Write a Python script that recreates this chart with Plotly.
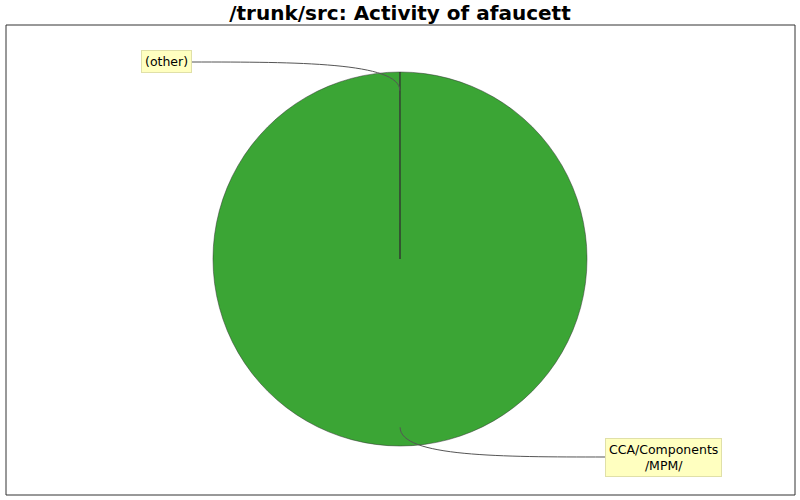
import math

import plotly.graph_objects as go

# slice data
labels = ["CCA/Components<br>/MPM/", "(other)"]
values = [5000, 1]
slice_colors = ["#3ba535", "#2f8a2b"]

# layout in pixels
W, H = 800, 500
ML, MR, MT, MB = 6, 5, 25, 5
CX, CY, R = 400, 259, 187
label_spots = [(605, 457, "left"), (192, 62, "right")]


def px_x(x):
    return (x - ML) / (W - ML - MR)


def px_y(y):
    return (H - MB - y) / (H - MT - MB)


fig = go.Figure(go.Pie(
    labels=labels,
    values=values,
    sort=False,
    direction="clockwise",
    rotation=0,
    textinfo="none",
    hoverinfo="label+value+percent",
    marker=dict(colors=slice_colors, line=dict(color="#333333", width=0.5)),
    domain=dict(x=[px_x(CX - R), px_x(CX + R)], y=[px_y(CY + R), px_y(CY - R)]),
    showlegend=False,
))

# leader lines and label boxes, placed from each slice's middle angle
total = sum(values)
cum = 0
shapes = [dict(type="rect", xref="paper", yref="paper", x0=0, x1=1, y0=0, y1=1,
               line=dict(color="#333333", width=1), layer="above")]
annotations = []
for lab, val, (lx, ly, side) in zip(labels, values, label_spots):
    mid = (cum + val / 2) / total * 2 * math.pi
    cum += val
    ax = CX + 0.9 * R * math.sin(mid)
    ay = CY - 0.9 * R * math.cos(mid)
    p1 = (ax, ly)
    p2 = ((ax + lx) / 2, ly)
    path = "M {} {} C {} {}, {} {}, {} {}".format(
        px_x(ax), px_y(ay), px_x(p1[0]), px_y(p1[1]),
        px_x(p2[0]), px_y(p2[1]), px_x(lx), px_y(ly))
    shapes.append(dict(type="path", xref="paper", yref="paper", path=path,
                       line=dict(color="#555555", width=1)))
    annotations.append(dict(
        x=px_x(lx), y=px_y(ly), xref="paper", yref="paper",
        xanchor=side, yanchor="middle", showarrow=False,
        text=lab, align="center",
        font=dict(family="DejaVu Sans", size=12.5, color="#000000"),
        bgcolor="#ffffc0", bordercolor="#e0e0a8", borderwidth=1, borderpad=3,
    ))

fig.update_layout(
    width=W, height=H,
    margin=dict(l=ML, r=MR, t=MT, b=MB),
    paper_bgcolor="white",
    plot_bgcolor="white",
    title=dict(text="<b>/trunk/src: Activity of afaucett</b>",
               x=0.5, xanchor="center", y=1 - 13 / H, yanchor="middle",
               font=dict(family="DejaVu Sans", size=20, color="#000000")),
    shapes=shapes,
    annotations=annotations,
)

# the page body has a default margin; drop it so the figure sits at the corner
fig.write_html("out.html", config={"displayModeBar": False},
               post_script="document.body.style.margin='0';")
